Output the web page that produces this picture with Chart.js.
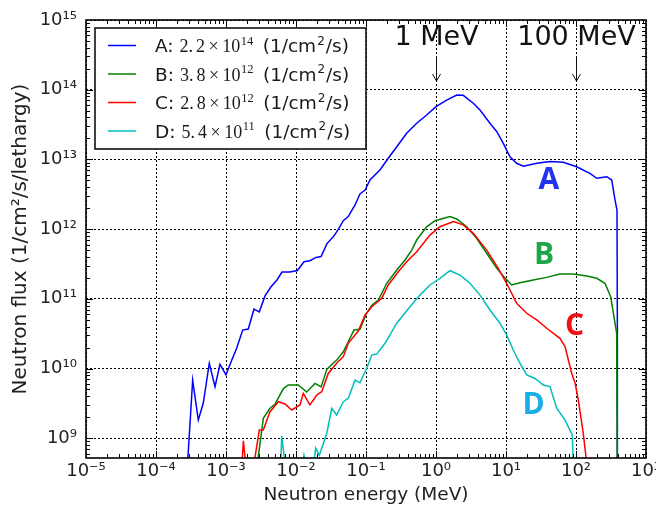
<!DOCTYPE html>
<html>
<head>
<meta charset="utf-8">
<script src="https://cdn.jsdelivr.net/npm/chart.js@4.4.0/dist/chart.umd.min.js"></script>
<style>
html, body { margin: 0; padding: 0; background: #fff; }
canvas { display: block; }
</style>
</head>
<body>
<canvas id="fluxChart" width="656" height="508"></canvas>
<script>
// neutron energy in MeV, flux in 1/cm2/s/lethargy
var aEnergy = [2.73e-4, 3.34e-4, 4.02e-4, 4.74e-4, 5.77e-4, 6.97e-4, 8.2e-4, 1.0e-3, 1.21e-3, 1.42e-3,
    1.73e-3, 2.08e-3, 2.51e-3, 2.99e-3, 3.61e-3, 4.4e-3, 5.35e-3, 6.3e-3, 8.2e-3, 1.05e-2,
    1.3e-2, 1.58e-2, 1.93e-2, 2.28e-2, 2.77e-2, 3.43e-2, 4.02e-2, 4.74e-2, 5.58e-2, 6.97e-2,
    8.2e-2, 9.7e-2, 0.114, 0.158, 0.208, 0.275, 0.381, 0.53, 0.736, 1.0,
    1.42, 1.98, 2.45, 3.41, 4.25, 5.9, 7.4, 9.15, 11.4, 14.2,
    17.7, 27.5, 42.5, 65.9, 102, 158, 198, 275, 324, 361,
    385, 390, 390];
var aFlux = [2.5e8, 6.8e9, 1.82e9, 3.2e9, 1.19e10, 5.5e9, 1.15e10, 8.1e9, 1.32e10, 1.95e10,
    3.56e10, 3.69e10, 7.1e10, 6.5e10, 1.1e11, 1.49e11, 1.86e11, 2.42e11, 2.42e11, 2.55e11,
    3.4e11, 3.52e11, 3.92e11, 4.05e11, 6.2e11, 7.8e11, 9.9e11, 1.32e12, 1.51e12, 2.22e12,
    3.19e12, 3.64e12, 5.06e12, 7.05e12, 1.04e13, 1.52e13, 2.37e13, 3.3e13, 4.34e13, 5.7e13,
    7.1e13, 8.4e13, 8.3e13, 6.4e13, 5.1e13, 3.3e13, 2.5e13, 1.7e13, 1.09e13, 8.8e12,
    8.0e12, 8.8e12, 9.3e12, 9.1e12, 7.85e12, 6.3e12, 5.36e12, 5.65e12, 5.06e12, 2.62e12,
    1.88e12, 3.56e10, 1e8];

var bEnergy = [2.73e-3, 3.41e-3, 4.25e-3, 5.0e-3, 6.6e-3, 7.76e-3, 1.08e-2, 1.42e-2, 1.87e-2, 2.28e-2,
    2.77e-2, 3.81e-2, 4.74e-2, 5.58e-2, 6.74e-2, 8.2e-2, 0.102, 0.121, 0.15, 0.198,
    0.275, 0.361, 0.45, 0.53, 0.736, 0.968, 1.58, 1.98, 2.75, 3.81,
    5.3, 7.4, 9.7, 12.1, 15.8, 24.5, 38.1, 59, 91.4, 142,
    198, 259, 313, 361, 381, 390];
var bFlux = [3.5e8, 1.93e9, 2.69e9, 3.06e9, 5.16e9, 5.8e9, 5.8e9, 4.6e9, 6.1e9, 5.43e9,
    9.8e9, 1.32e10, 1.74e10, 2.42e10, 3.56e10, 3.65e10, 6.2e10, 8.1e10, 9.6e10, 1.67e11,
    2.59e11, 3.6e11, 5.0e11, 6.98e11, 1.08e12, 1.32e12, 1.51e12, 1.4e12, 1.08e12, 7.4e11,
    4.5e11, 2.74e11, 1.97e11, 1.58e11, 1.7e11, 1.86e11, 2.03e11, 2.27e11, 2.27e11, 2.12e11,
    1.97e11, 1.67e11, 1.07e11, 4.46e10, 3.2e10, 1e8];

var cEnergy = [1.66e-3, 1.77e-3, 1.95e-3, 2.43e-3, 2.99e-3, 3.41e-3, 4.25e-3, 5.59e-3, 6.97e-3, 8.7e-3,
    1.14e-2, 1.27e-2, 1.58e-2, 1.98e-2, 2.33e-2, 2.89e-2, 3.81e-2, 4.74e-2, 5.58e-2, 7.76e-2,
    9.7e-2, 0.121, 0.168, 0.208, 0.289, 0.381, 0.53, 0.82, 1.14, 1.77,
    2.45, 3.41, 5.3, 7.76, 10.2, 14.2, 19.8, 27.5, 38.1, 59,
    69.7, 86.9, 96.8, 108, 127, 146];
var cFlux = [3.0e8, 9.2e8, 3.5e8, 3.5e8, 1.31e9, 1.31e9, 2.4e9, 3.34e9, 3.1e9, 2.54e9,
    3.0e9, 4.4e9, 3.0e9, 4.17e9, 4.65e9, 8.5e9, 1.19e10, 1.48e10, 2.3e10, 3.45e10,
    5.86e10, 7.7e10, 1.02e11, 1.58e11, 2.45e11, 3.4e11, 4.74e11, 8.2e11, 1.08e12, 1.28e12,
    1.15e12, 8.7e11, 5.0e11, 2.74e11, 1.67e11, 8.6e10, 6.2e10, 4.97e10, 3.78e10, 2.71e10,
    2.06e10, 8.5e9, 6.25e9, 3.53e9, 1.17e9, 3.5e8];

var dEnergy = [6.0e-3, 6.25e-3, 7.3e-3, 1.2e-2, 1.3e-2, 1.44e-2, 1.75e-2, 1.91e-2, 2.15e-2, 2.75e-2,
    3.24e-2, 3.81e-2, 4.74e-2, 5.58e-2, 6.97e-2, 8.2e-2, 0.102, 0.121, 0.142, 0.187,
    0.275, 0.425, 0.59, 0.82, 1.14, 1.58, 2.2, 3.06, 4.25, 5.9,
    8.2, 10.2, 12.7, 15.8, 19.8, 25.9, 34.1, 42.5, 53, 69.7,
    88.5, 92];
var dFlux = [3.0e8, 1.08e9, 3.0e8, 3.5e8, 5.7e8, 3.5e8, 3.5e8, 7.2e8, 5.7e8, 1.17e9,
    2.69e9, 2.15e9, 3.34e9, 3.73e9, 6.8e9, 6.25e9, 1.0e10, 1.56e10, 1.61e10, 2.3e10,
    4.46e10, 7.7e10, 1.13e11, 1.58e11, 1.97e11, 2.53e11, 2.19e11, 1.67e11, 1.13e11, 6.9e10,
    4.46e10, 3.03e10, 1.84e10, 1.19e10, 8.1e9, 7.2e9, 5.8e9, 5.5e9, 2.69e9, 1.82e9,
    1.11e9, 3.5e8];

var seriesNames = ['A', 'B', 'C', 'D'];
var seriesColors = ['#0000ff', '#008000', '#ff0000', '#00bfbf'];
var totalMantissa = ['2.2', '3.8', '2.8', '5.4'];
var totalExponent = ['14', '12', '12', '11'];

// big letters next to the curves
var tagEnergy = [41, 35, 95, 24.7];
var tagFlux = [5.2e12, 4.4e11, 4.1e10, 3.1e9];
var tagColors = ['#2233ee', '#1fa64a', '#ee1111', '#1aaee6'];

var markerEnergy = [1, 100];
var markerText = ['1 MeV', '100 MeV'];

var xDecades = [-5, -4, -3, -2, -1, 0, 1, 2, 3];
var xTickLabels = ['10⁻⁵', '10⁻⁴', '10⁻³', '10⁻²', '10⁻¹', '10⁰', '10¹', '10²', '10³'];
var yDecades = [9, 10, 11, 12, 13, 14, 15];
var yTickLabels = ['10⁹', '10¹⁰', '10¹¹', '10¹²', '10¹³', '10¹⁴', '10¹⁵'];

function points(xs, ys) {
    return xs.map(function (x, i) { return {x: x, y: ys[i]}; });
}

function decadeOf(v) {
    var l = Math.log10(v);
    var r = Math.round(l);
    return Math.abs(l - r) < 1e-6 ? r : null;
}

function isWholeStep(v) {
    var e = Math.floor(Math.log10(v) + 1e-9);
    var m = v / Math.pow(10, e);
    return Math.abs(m - Math.round(m)) < 1e-6 && Math.round(m) < 10;
}

function gridColor(ctx) {
    if (!ctx.tick) return 'rgba(0,0,0,0)';
    return decadeOf(ctx.tick.value) !== null ? '#000' : 'rgba(0,0,0,0)';
}

var framePlugin = {
    id: 'frameTicks',
    afterDraw: function (chart) {
        var ctx = chart.ctx, a = chart.chartArea;
        var xs = chart.scales.x, ys = chart.scales.y;
        ctx.save();
        ctx.strokeStyle = '#000';
        ctx.lineWidth = 1;
        ctx.beginPath();
        xs.ticks.forEach(function (t) {
            if (!isWholeStep(t.value)) return;
            var px = Math.round(xs.getPixelForValue(t.value)) + 0.5;
            if (px <= a.left + 1 || px >= a.right - 1) return;
            var len = decadeOf(t.value) !== null ? 7 : 4;
            ctx.moveTo(px, a.bottom); ctx.lineTo(px, a.bottom - len);
            ctx.moveTo(px, a.top); ctx.lineTo(px, a.top + len);
        });
        ys.ticks.forEach(function (t) {
            if (!isWholeStep(t.value)) return;
            var py = Math.round(ys.getPixelForValue(t.value)) + 0.5;
            if (py <= a.top + 1 || py >= a.bottom - 1) return;
            var len = decadeOf(t.value) !== null ? 7 : 4;
            ctx.moveTo(a.left, py); ctx.lineTo(a.left + len, py);
            ctx.moveTo(a.right, py); ctx.lineTo(a.right - len, py);
        });
        ctx.stroke();
        ctx.lineWidth = 1.6;
        ctx.strokeRect(a.left, a.top, a.right - a.left, a.bottom - a.top);

        // energy markers
        ctx.fillStyle = '#111';
        ctx.strokeStyle = '#111';
        ctx.lineWidth = 1;
        ctx.font = '27px "DejaVu Sans"';
        ctx.textAlign = 'center';
        ctx.textBaseline = 'alphabetic';
        markerEnergy.forEach(function (e, i) {
            var px = Math.round(xs.getPixelForValue(e)) + 0.5;
            ctx.fillText(markerText[i], px, 45);
            ctx.beginPath();
            ctx.moveTo(px, 57); ctx.lineTo(px, 81);
            ctx.moveTo(px - 4, 74); ctx.lineTo(px, 81); ctx.lineTo(px + 4, 74);
            ctx.stroke();
        });

        // curve tags
        ctx.font = '700 30px "Open Sans"';
        ctx.textBaseline = 'middle';
        seriesNames.forEach(function (n, i) {
            ctx.fillStyle = tagColors[i];
            ctx.fillText(n, xs.getPixelForValue(tagEnergy[i]), ys.getPixelForValue(tagFlux[i]) + 1);
        });

        // legend box
        var lx = 95, ly = 28, lw = 271, lh = 121;
        ctx.fillStyle = '#fff';
        ctx.fillRect(lx, ly, lw, lh);
        ctx.strokeStyle = '#111';
        ctx.lineWidth = 1.6;
        ctx.strokeRect(lx, ly, lw, lh);
        ctx.textAlign = 'left';
        ctx.textBaseline = 'alphabetic';
        seriesNames.forEach(function (n, i) {
            var y = 45.5 + i * 28.5;
            ctx.strokeStyle = seriesColors[i];
            ctx.lineWidth = 1.5;
            ctx.beginPath();
            ctx.moveTo(108, y); ctx.lineTo(136, y);
            ctx.stroke();

            var base = y + 6.5, x = 155;
            ctx.fillStyle = '#1a1a1a';
            ctx.font = '18.5px "DejaVu Sans"';
            ctx.fillText(n + ':', x, base);
            x += ctx.measureText(n + ':').width + 6;
            var parts = totalMantissa[i].split('.');
            ctx.font = '18px "Liberation Serif"';
            ctx.fillText(parts[0] + '.', x, base);
            x += ctx.measureText(parts[0] + '.').width + 3;
            ctx.fillText(parts[1], x, base);
            x += ctx.measureText(parts[1]).width + 3.5;
            ctx.fillText('×', x, base);
            x += ctx.measureText('×').width + 3.5;
            ctx.fillText('10', x, base);
            x += ctx.measureText('10').width;
            ctx.font = '12.5px "Liberation Serif"';
            ctx.fillText(totalExponent[i], x + 0.5, base - 7.5);
            x += ctx.measureText(totalExponent[i]).width + 10;
            ctx.font = '18.5px "DejaVu Sans"';
            ctx.fillText('(1/cm', x, base);
            x += ctx.measureText('(1/cm').width + 1;
            ctx.font = '12px "DejaVu Sans"';
            ctx.fillText('2', x, base - 7.5);
            x += ctx.measureText('2').width + 1;
            ctx.font = '18.5px "DejaVu Sans"';
            ctx.fillText('/s)', x, base);
        });
        ctx.restore();
    }
};

var fluxChart = new Chart(document.getElementById('fluxChart'), {
    type: 'line',
    data: {
        datasets: [
            {label: 'A', data: points(aEnergy, aFlux), borderColor: seriesColors[0], order: 4},
            {label: 'B', data: points(bEnergy, bFlux), borderColor: seriesColors[1], order: 3},
            {label: 'C', data: points(cEnergy, cFlux), borderColor: seriesColors[2], order: 2},
            {label: 'D', data: points(dEnergy, dFlux), borderColor: seriesColors[3], order: 1}
        ]
    },
    options: {
        responsive: false,
        animation: false,
        datasets: {
            line: {borderWidth: 1.5, pointRadius: 0, tension: 0, fill: false}
        },
        layout: {padding: {left: 0, right: 10, top: 20, bottom: 0}},
        plugins: {
            legend: {display: false},
            tooltip: {enabled: false}
        },
        scales: {
            x: {
                type: 'logarithmic',
                min: 1e-5,
                max: 1e3,
                grid: {color: gridColor, lineWidth: 1, drawTicks: false},
                border: {display: false, dash: [2, 2]},
                ticks: {
                    autoSkip: false, maxRotation: 0, minRotation: 0, padding: 3,
                    color: '#222', font: {family: 'DejaVu Sans', size: 18},
                    callback: function (v) {
                        var i = xDecades.indexOf(decadeOf(v));
                        return i >= 0 ? xTickLabels[i] : '';
                    }
                },
                title: {
                    display: true, text: 'Neutron energy (MeV)', color: '#222',
                    font: {family: 'DejaVu Sans', size: 18.5}, padding: {top: 0, bottom: 1.5}
                },
                afterFit: function (s) { s.height = 50; s.paddingLeft = 0; s.paddingRight = 0; }
            },
            y: {
                type: 'logarithmic',
                min: 5.2e8,
                max: 1e15,
                grid: {color: gridColor, lineWidth: 1, drawTicks: false},
                border: {display: false, dash: [2, 2]},
                ticks: {
                    autoSkip: false, padding: 9,
                    color: '#222', font: {family: 'DejaVu Sans', size: 18},
                    callback: function (v) {
                        var i = yDecades.indexOf(decadeOf(v));
                        return i >= 0 ? yTickLabels[i] : '';
                    }
                },
                title: {
                    display: true, text: 'Neutron flux (1/cm²/s/lethargy)', color: '#222',
                    font: {family: 'DejaVu Sans', size: 20}, padding: {top: 9, bottom: 0}
                },
                afterFit: function (s) { s.width = 86; s.paddingTop = 0; s.paddingBottom = 0; }
            }
        }
    },
    plugins: [framePlugin]
});
</script>
</body>
</html>
